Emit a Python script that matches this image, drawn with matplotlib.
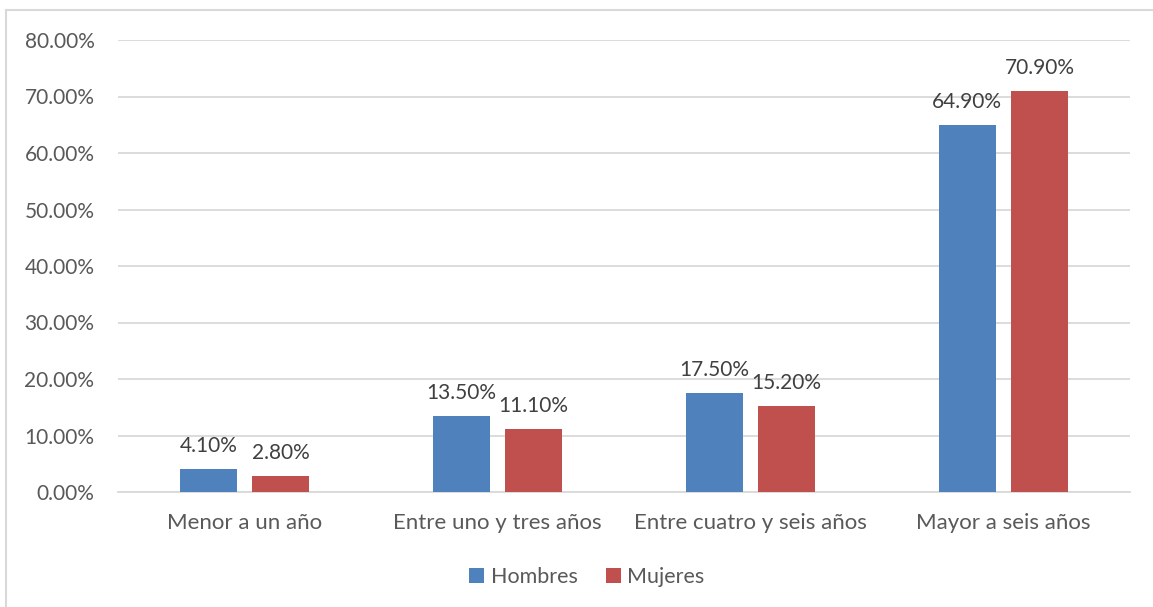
import matplotlib.pyplot as plt
from matplotlib.lines import Line2D
from matplotlib.ticker import FuncFormatter
import numpy as np

# Data
categories = ['Menor a un año', 'Entre uno y tres años', 'Entre cuatro y seis años', 'Mayor a seis años']
hombres = [4.1, 13.5, 17.5, 64.9]
mujeres = [2.8, 11.1, 15.2, 70.9]
series_names = ['Hombres', 'Mujeres']

plt.rcParams['font.family'] = ['Lato', 'DejaVu Sans']

blue = '#4F81BD'
red = '#C0504D'
grid_col = '#D9D9D9'
text_col = '#595959'
label_col = '#404040'

fig = plt.figure(figsize=(11.53, 6.07), dpi=100)
ax = fig.add_axes([118 / 1153, 1 - 492 / 607, 1012 / 1153, 452 / 607])

x = np.arange(len(categories))
width = 0.225
offset = 0.143

b1 = ax.bar(x - offset, hombres, width, color=blue, label=series_names[0], zorder=3)
b2 = ax.bar(x + offset, mujeres, width, color=red, label=series_names[1], zorder=3)

for bars in (b1, b2):
    ax.bar_label(bars, labels=['%.2f%%' % v for v in bars.datavalues],
                 padding=9.5, fontsize=15, color=label_col)

ax.set_xlim(-0.5, len(categories) - 0.5)
ax.set_ylim(0, 80)
ax.set_yticks(np.arange(0, 81, 10))
ax.yaxis.set_major_formatter(FuncFormatter(lambda v, p: '%.2f%%' % v))
ax.set_xticks(x)
ax.set_xticklabels(categories)

ax.grid(axis='y', color=grid_col, linewidth=1.3, zorder=0)
for s in ['top', 'right', 'left']:
    ax.spines[s].set_visible(False)
ax.spines['bottom'].set_color(grid_col)
ax.spines['bottom'].set_linewidth(1.3)
ax.tick_params(axis='both', length=0, labelcolor=text_col)
ax.tick_params(axis='y', pad=17, labelsize=15)
ax.tick_params(axis='x', pad=15, labelsize=16)

fig.legend(handles=[b1, b2], loc='center', bbox_to_anchor=(587 / 1153, 1 - 577 / 607),
           ncol=2, frameon=False, fontsize=15.5, labelcolor=text_col,
           handlelength=0.7, handleheight=0.7, handletextpad=0.3, columnspacing=1.3)

# outer chart border (left and top edges visible)
fig.add_artist(Line2D([5.5 / 1153, 5.5 / 1153], [0, 1 - 10 / 607], transform=fig.transFigure,
                      color=grid_col, linewidth=1.5))
fig.add_artist(Line2D([5.5 / 1153, 1], [1 - 10 / 607, 1 - 10 / 607], transform=fig.transFigure,
                      color=grid_col, linewidth=1.5))

fig.savefig('out.png', dpi=100)
